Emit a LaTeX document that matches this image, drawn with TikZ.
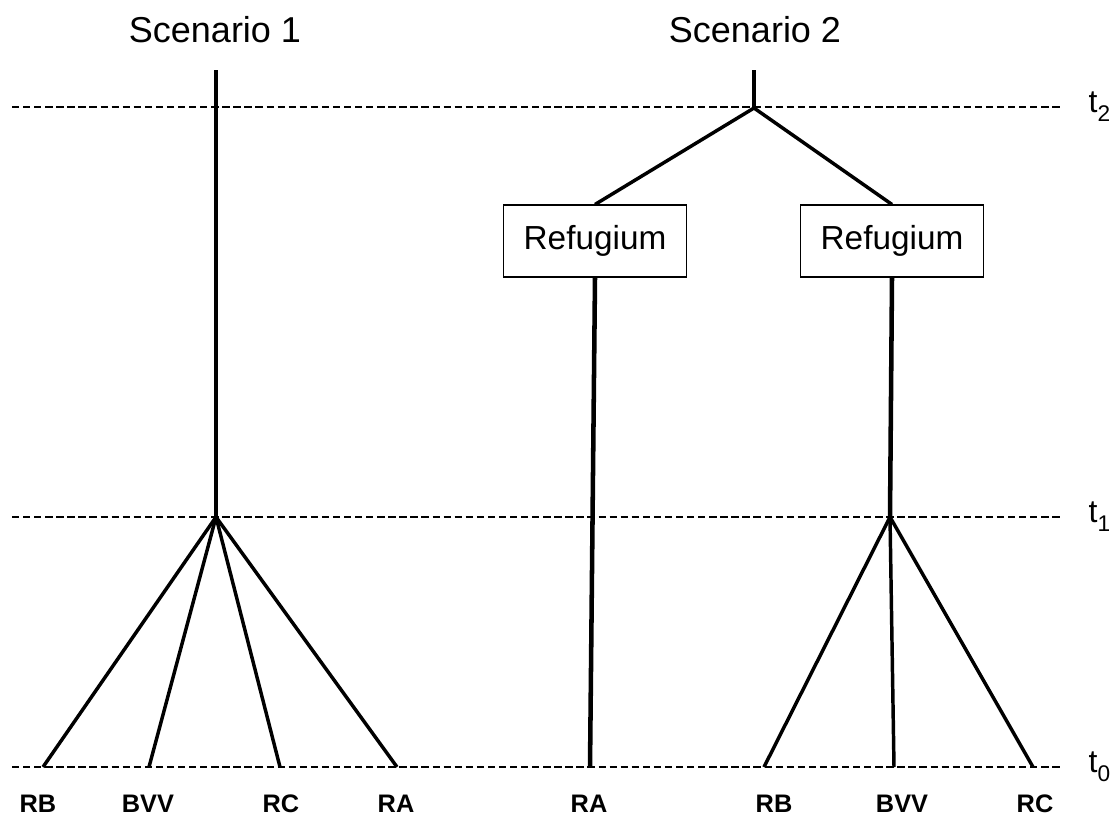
\documentclass[tikz,border=0pt]{standalone}
\usepackage{fontspec}
\setmainfont{Liberation Sans}
\usepackage{tikz}
\usetikzlibrary{positioning}
\tikzstyle{tline} = [draw, line width=1.9pt, dash pattern=on 5.5pt off 2.8pt]
\tikzstyle{stem} = [draw, line width=3.4pt]
\tikzstyle{branch} = [draw, line width=2.6pt]
\tikzstyle{refbox} = [rectangle, draw, line width=0.8pt, fill=white, minimum width=137pt, minimum height=54pt, font=\fontsize{25}{29}\selectfont]
\tikzstyle{title} = [draw=none, fill=none, text centered, font=\fontsize{27}{32}\selectfont]
\tikzstyle{leaf} = [draw=none, fill=none, text centered, font=\fontsize{19}{22}\selectfont\bfseries]
\tikzstyle{tlabel} = [draw=none, fill=none, anchor=west, inner sep=0pt, font=\fontsize{24}{28}\selectfont]
\newcommand{\tsub}[1]{t\raisebox{-0.28em}{\fontsize{17}{20}\selectfont #1}}

\begin{document}
\begin{tikzpicture}[x=0.75pt, y=-0.75pt]
\useasboundingbox (0,0) rectangle (1117,819);

% time levels =============================
\coordinate (a2) at (12,107);
\coordinate (b2) at (1063,107);
\coordinate (a1) at (12,517);
\coordinate (b1) at (1063,517);
\coordinate (a0) at (12,767);
\coordinate (b0) at (1063,767);
\path[tline] (a2) -- (b2);
\path[tline] (a1) -- (b1);
\path[tline] (a0) -- (b0);
\node[tlabel, right=19pt of b2] (t2) {\tsub{2}};
\node[tlabel, right=19pt of b1] (t1) {\tsub{1}};
\node[tlabel, right=19pt of b0] (t0) {\tsub{0}};

% scenario 1 =============================
\node[title] (sc1) at (215,30) {Scenario 1};
\coordinate (s1top) at (216,70);
\coordinate (s1root) at (216,517);
\coordinate (s1rb) at (43,767);
\coordinate (s1bvv) at (149,767);
\coordinate (s1rc) at (280,767);
\coordinate (s1ra) at (397,767);
\node[leaf] (l1rb) at (38,804) {RB};
\node[leaf] (l1bvv) at (148,804) {BVV};
\node[leaf] (l1rc) at (281,804) {RC};
\node[leaf] (l1ra) at (396,804) {RA};

% scenario 2 =============================
\node[title] (sc2) at (755,30) {Scenario 2};
\coordinate (s2top) at (754,70);
\coordinate (s2root) at (754,108);
\node[refbox] (ref1) at (595,241) {Refugium};
\node[refbox] (ref2) at (892,241) {Refugium};
\coordinate (s2mid) at (890,517);
\coordinate (s2ra) at (590,767);
\coordinate (s2rb) at (764,767);
\coordinate (s2bvv) at (894,767);
\coordinate (s2rc) at (1033,767);
\node[leaf] (l2ra) at (589,804) {RA};
\node[leaf] (l2rb) at (774,804) {RB};
\node[leaf] (l2bvv) at (902,804) {BVV};
\node[leaf] (l2rc) at (1035,804) {RC};

% edges
\path[stem] (s1top) -- (s1root);
\path[branch] (s1root) -- (s1rb);
\path[branch] (s1root) -- (s1bvv);
\path[branch] (s1root) -- (s1rc);
\path[branch] (s1root) -- (s1ra);

\path[stem] (s2top) -- (s2root);
\path[branch] (s2root) -- (ref1.north);
\path[branch] (s2root) -- (ref2.north);
\path[stem] (ref1.south) -- (s2ra);
\path[stem] (ref2.south) -- (s2mid);
\path[branch] (s2mid) -- (s2rb);
\path[branch] (s2mid) -- (s2bvv);
\path[branch] (s2mid) -- (s2rc);

\end{tikzpicture}
\end{document}
